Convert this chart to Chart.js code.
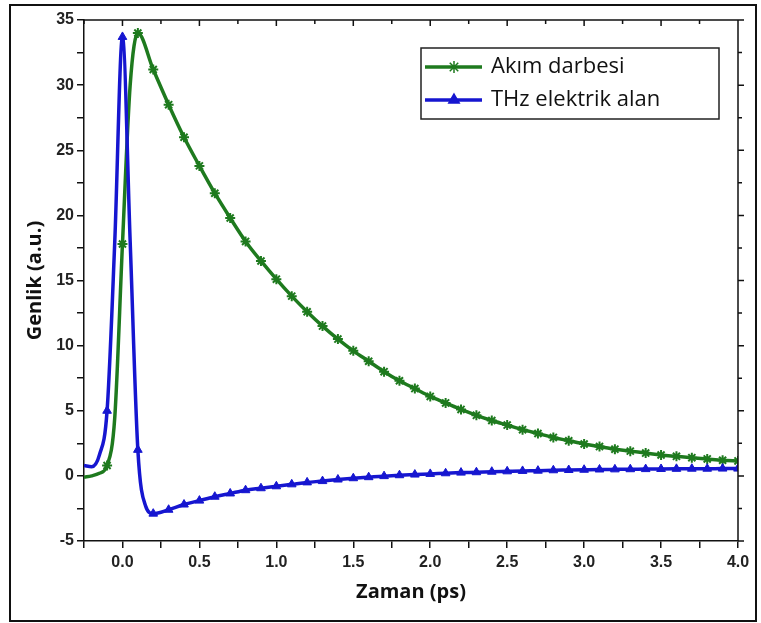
<!DOCTYPE html>
<html>
<head>
<meta charset="utf-8">
<script src="https://cdn.jsdelivr.net/npm/chart.js@4.4.1/dist/chart.umd.min.js"></script>
<style>
html, body { margin: 0; padding: 0; background: #fff; }
#wrap { position: relative; width: 761px; height: 623px; }
#frame { position: absolute; left: 9px; top: 4px; width: 744px; height: 614px; border: 2px solid #111; pointer-events: none; }
</style>
</head>
<body>
<div id="wrap">
<canvas id="myChart" width="761" height="623"></canvas>
<div id="frame"></div>
</div>
<script>
// Akım darbesi (green, stars)
const pulseTimes = [-0.25, -0.2, -0.15, -0.1, -0.05, 0.0, 0.05, 0.1, 0.2, 0.3, 0.4, 0.5, 0.6, 0.7, 0.8, 0.9, 1.0,
    1.1, 1.2, 1.3, 1.4, 1.5, 1.6, 1.7, 1.8, 1.9, 2.0, 2.1, 2.2, 2.3, 2.4, 2.5, 2.6, 2.7, 2.8, 2.9, 3.0,
    3.1, 3.2, 3.3, 3.4, 3.5, 3.6, 3.7, 3.8, 3.9, 4.0];
const pulseValues = [-0.1, 0.0, 0.2, 0.8, 4.5, 17.8, 30.0, 34.0, 31.2, 28.5, 26.0, 23.8, 21.7, 19.8, 18.0, 16.5, 15.1,
    13.8, 12.6, 11.5, 10.5, 9.6, 8.8, 8.0, 7.3, 6.7, 6.1, 5.6, 5.1, 4.65, 4.25, 3.9, 3.55, 3.25, 2.95, 2.7, 2.45,
    2.25, 2.05, 1.9, 1.75, 1.6, 1.5, 1.4, 1.3, 1.2, 1.15];

// THz elektrik alan (blue, triangles)
const fieldTimes = [-0.25, -0.2, -0.15, -0.1, -0.05, 0.0, 0.05, 0.1, 0.15, 0.2, 0.3, 0.4, 0.5, 0.6, 0.7, 0.8, 0.9, 1.0,
    1.1, 1.2, 1.3, 1.4, 1.5, 1.6, 1.7, 1.8, 1.9, 2.0, 2.1, 2.2, 2.3, 2.4, 2.5, 2.6, 2.7, 2.8, 2.9, 3.0,
    3.1, 3.2, 3.3, 3.4, 3.5, 3.6, 3.7, 3.8, 3.9, 4.0];
const fieldValues = [0.8, 0.7, 1.6, 5.0, 18.0, 33.7, 18.0, 2.0, -2.3, -2.9, -2.6, -2.2, -1.9, -1.6, -1.35, -1.1, -0.95, -0.8,
    -0.65, -0.5, -0.4, -0.28, -0.18, -0.1, -0.02, 0.05, 0.1, 0.15, 0.2, 0.25, 0.28, 0.32, 0.35, 0.38, 0.4, 0.43, 0.45, 0.47,
    0.49, 0.5, 0.51, 0.52, 0.53, 0.54, 0.55, 0.55, 0.56, 0.56];

const seriesNames = ["Akım darbesi", "THz elektrik alan"];
const xLimits = [-0.25, 4.0];
const yLimits = [-5, 35];

const green = "rgb(30,122,30)";
const blue = "rgb(22,22,208)";

function pts(xs, ys) {
    return xs.map((x, i) => ({ x: x, y: ys[i] }));
}
// markers only on the 0.1 ps grid, from -0.1 on
function markerRadius(ctx) {
    const x = ctx.raw ? ctx.raw.x : 0;
    const onGrid = Math.abs(x * 10 - Math.round(x * 10)) < 1e-6;
    return onGrid && x > -0.15 ? 5 : 0;
}
function isStep(v, step) {
    return Math.abs(v / step - Math.round(v / step)) < 1e-6;
}

const tickFont = { family: "Liberation Sans, Arial", size: 16, weight: "bold" };
const titleFont = { family: "Open Sans", size: 20, weight: "bold" };

// top axis (inward ticks) and right axis (outward ticks)
const frameTicks = {
    id: "frameTicks",
    afterDraw(chart) {
        const { ctx, chartArea: a, scales } = chart;
        ctx.save();
        ctx.strokeStyle = "#111";
        ctx.lineWidth = 1.5;
        ctx.beginPath();
        ctx.moveTo(a.left, a.top);
        ctx.lineTo(a.right, a.top);
        ctx.lineTo(a.right, a.bottom);
        scales.x.ticks.forEach(t => {
            const px = scales.x.getPixelForValue(t.value);
            ctx.moveTo(px, a.top);
            ctx.lineTo(px, a.top + (isStep(t.value, 0.5) ? 6 : 4));
        });
        scales.y.ticks.forEach(t => {
            const py = scales.y.getPixelForValue(t.value);
            ctx.moveTo(a.right, py);
            ctx.lineTo(a.right + (isStep(t.value, 5) ? 6 : 4), py);
        });
        ctx.stroke();
        ctx.restore();
    }
};

// legend box inside the plot, top right
const boxLegend = {
    id: "boxLegend",
    afterDraw(chart) {
        const { ctx } = chart;
        const x0 = 421, y0 = 48, w = 298, h = 71;
        ctx.save();
        ctx.fillStyle = "#fff";
        ctx.fillRect(x0, y0, w, h);
        ctx.strokeStyle = "#222";
        ctx.lineWidth = 1.5;
        ctx.strokeRect(x0, y0, w, h);
        const rows = [
            { name: seriesNames[0], color: green, style: "star", y: y0 + 19 },
            { name: seriesNames[1], color: blue, style: "triangle", y: y0 + 52 }
        ];
        rows.forEach(r => {
            ctx.strokeStyle = r.color;
            ctx.fillStyle = r.color;
            ctx.lineWidth = 3.5;
            ctx.beginPath();
            ctx.moveTo(x0 + 4, r.y);
            ctx.lineTo(x0 + 61, r.y);
            ctx.stroke();
            ctx.lineWidth = 1.5;
            Chart.helpers.drawPoint(ctx, { pointStyle: r.style, radius: 6, borderWidth: 1.5, rotation: 0 }, x0 + 33, r.y);
            ctx.fillStyle = "#111";
            ctx.font = "22px 'Open Sans'";
            ctx.textBaseline = "middle";
            ctx.fillText(r.name, x0 + 70, r.y);
        });
        ctx.restore();
    }
};

const data = {
    datasets: [
        {
            label: seriesNames[0],
            data: pts(pulseTimes, pulseValues),
            borderColor: green,
            backgroundColor: green,
            borderWidth: 3.5,
            pointStyle: "star",
            pointRadius: markerRadius,
            pointBorderWidth: 2,
            pointBorderColor: green,
            cubicInterpolationMode: "monotone",
            order: 1,
        },
        {
            label: seriesNames[1],
            data: pts(fieldTimes, fieldValues),
            borderColor: blue,
            backgroundColor: blue,
            borderWidth: 3.5,
            pointStyle: "triangle",
            pointRadius: markerRadius,
            pointBorderWidth: 1,
            pointBorderColor: blue,
            cubicInterpolationMode: "monotone",
            order: 0,
        },
    ],
};

const config = {
    type: "line",
    data: data,
    options: {
        responsive: false,
        animation: false,
        layout: { padding: { top: 20, right: 23, bottom: 0, left: 0 } },
        plugins: { legend: { display: false }, tooltip: { enabled: false } },
        scales: {
            x: {
                type: "linear",
                min: xLimits[0],
                max: xLimits[1],
                afterFit: s => { s.height = 82; },
                ticks: {
                    stepSize: 0.25,
                    autoSkip: false,
                    maxRotation: 0,
                    padding: 5,
                    color: "#222",
                    font: tickFont,
                    callback: v => (isStep(v, 0.5) ? v.toFixed(1) : ""),
                },
                grid: { drawOnChartArea: false, drawTicks: true, tickLength: 7, color: "#111", lineWidth: 1.5 },
                border: { display: true, color: "#111", width: 1.5 },
                title: { display: true, text: "Zaman (ps)", color: "#111", font: titleFont, padding: { top: 0, bottom: 19 } },
            },
            y: {
                min: yLimits[0],
                max: yLimits[1],
                afterFit: s => { s.width = 84; },
                ticks: {
                    stepSize: 2.5,
                    autoSkip: false,
                    padding: 3,
                    color: "#222",
                    font: tickFont,
                    callback: v => (isStep(v, 5) ? String(v) : ""),
                },
                grid: { drawOnChartArea: false, drawTicks: true, tickLength: 7, color: "#111", lineWidth: 1.5 },
                border: { display: true, color: "#111", width: 1.5 },
                title: { display: true, text: "Genlik (a.u.)", color: "#111", font: titleFont, padding: { top: 23, bottom: 0 } },
            },
        },
    },
    plugins: [frameTicks, boxLegend],
};

const myChart = new Chart(document.getElementById("myChart"), config);
</script>
</body>
</html>
